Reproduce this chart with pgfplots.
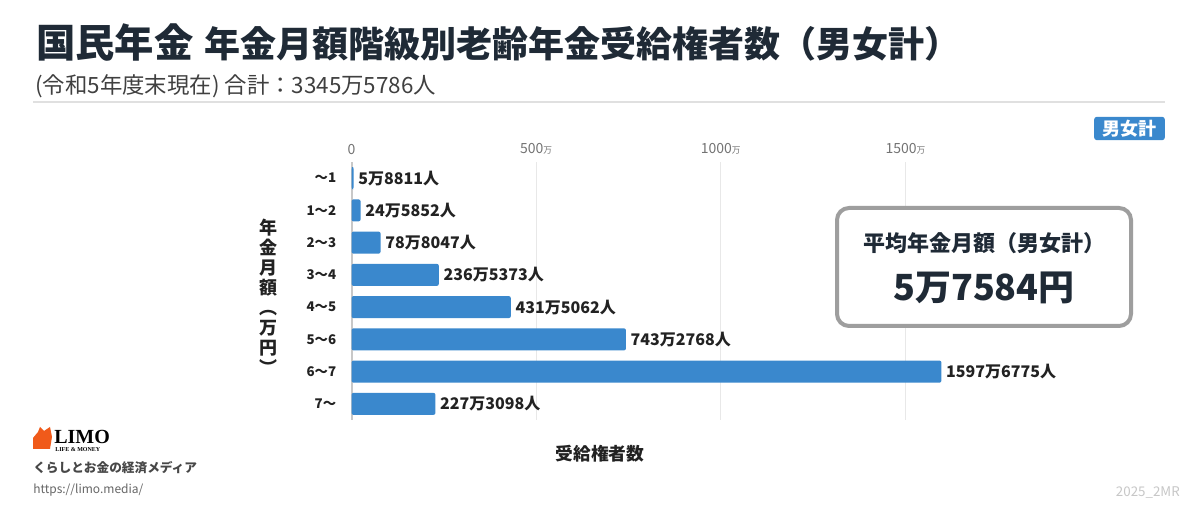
\documentclass[border=0pt]{standalone}
\usepackage{pgfplots}
\pgfplotsset{compat=1.18}
\usepackage{pgfplotstable}
\usepackage{fontspec}
\setmainfont{Noto Sans CJK JP}
\newfontfamily\logofont{Liberation Serif}
\definecolor{titlecol}{HTML}{1F2A36}
\definecolor{barblue}{HTML}{3A88CD}
\definecolor{gridcol}{HTML}{E8E8E8}
\definecolor{axcol}{HTML}{C8C8C8}
\definecolor{boxgray}{HTML}{9E9E9E}
\definecolor{labcol}{HTML}{222222}
\definecolor{limoorange}{HTML}{F05A1A}

\pgfplotstableread[col sep=comma]{
y,x,label
0,5.8811,5万8811人
1,24.5852,24万5852人
2,78.8047,78万8047人
3,236.5373,236万5373人
4,431.5062,431万5062人
5,743.2768,743万2768人
6,1597.6775,1597万6775人
7,227.3098,227万3098人
}\datatable

\begin{document}
\begin{tikzpicture}[x=0.75pt,y=0.75pt]
\useasboundingbox (0,0) rectangle (1200,520);
\fill[white] (0,0) rectangle (1200,520);
\coordinate (axpos) at (351.5,100);

% title
\node[anchor=base west,inner sep=0,text=titlecol] at (36,462)
  {{\fontsize{29.5}{29.5}\selectfont\bfseries 国民年金}\hspace{8pt}{\fontsize{27}{27}\selectfont\bfseries 年金月額階級別老齢年金受給権者数（男女計）}};
\node[anchor=base west,inner sep=0,text=black!75] at (35,426)
  {\fontsize{16.8}{16.8}\selectfont (令和5年度末現在) 合計：3345万5786人};
\draw[line width=1.5pt,draw=black!12] (33,418) -- (1165,418);

\begin{axis}[
  at={(axpos)}, anchor=south west,
  scale only axis, width=498.5pt, height=193.5pt,
  xmin=0, xmax=1800, ymin=-0.5, ymax=7.5, y dir=reverse,
  axis x line*=top, axis y line*=left,
  x axis line style={draw=none},
  y axis line style={draw=axcol,line width=1.5pt,-},
  xtick={0,500,1000,1500},
  xticklabels={0,500{\fontsize{6.5}{6.5}\selectfont 万},1000{\fontsize{6.5}{6.5}\selectfont 万},1500{\fontsize{6.5}{6.5}\selectfont 万}},
  xticklabel style={font=\fontsize{10.5}{10.5}\selectfont, text=black!55, yshift=2pt},
  ytick={0,...,7},
  yticklabels={～1,1～2,2～3,3～4,4～5,5～6,6～7,7～},
  yticklabel style={font=\fontsize{10}{10}\selectfont\bfseries, text=labcol, xshift=-8pt},
  major tick length=0pt,
  xmajorgrids, grid style={draw=gridcol,line width=0.75pt},
  clip=false,
]
\addplot[xbar, bar width=16.5pt, fill=barblue, draw=none, rounded corners=1.5pt,
  point meta=explicit symbolic, nodes near coords,
  nodes near coords style={anchor=west, xshift=0pt, font=\fontsize{12}{12}\selectfont\bfseries, text=labcol}]
  table[x=x,y=y,meta=label]{\datatable};
\end{axis}

% y label vertical
\node[align=center,inner sep=0,text=labcol,font=\fontsize{13.5}{15}\selectfont\bfseries] at (268,223)
  {年\\金\\月\\額\\︵\\万\\円\\︶};
% x label
\node[text=labcol,font=\fontsize{13.3}{13.3}\selectfont\bfseries] at (600,66) {受給権者数};

% tag
\node[fill=barblue,text=white,rounded corners=2pt,inner sep=0,minimum width=53pt,minimum height=17.5pt,font=\fontsize{13.5}{13.5}\selectfont\bfseries] at (1129.5,391.5) {男女計};

% average box
\draw[boxgray,line width=3pt,fill=white,rounded corners=9pt] (837,312) rectangle (1131,194);
\node[text=titlecol,font=\fontsize{16.5}{16.5}\selectfont\bfseries] at (984,277) {平均年金月額（男女計）};
\node[text=titlecol,font=\fontsize{27}{27}\selectfont\bfseries] at (984,232) {5万7584円};

% logo
\fill[limoorange] (33,71) -- (33,82) -- (38,88) -- (40,93) -- (44,89) -- (50,93) -- (52,83) -- (50,71) -- cycle;
\node[anchor=west,inner sep=0,font=\logofont\bfseries\fontsize{15}{15}\selectfont] at (54,83) {LIMO};
\node[anchor=west,inner sep=0,font=\logofont\bfseries\fontsize{4.5}{4.5}\selectfont] at (55,70.5) {LIFE \& MONEY};
\node[anchor=west,inner sep=0,text=black!72,font=\fontsize{9.5}{9.5}\selectfont\bfseries] at (33,52) {くらしとお金の経済メディア};
\node[anchor=west,inner sep=0,text=black!60,font=\fontsize{9}{9}\selectfont] at (33,30) {https://limo.media/};
\node[anchor=east,inner sep=0,text=black!22,font=\fontsize{10}{10}\selectfont] at (1180,27) {2025\_2MR};
\end{tikzpicture}
\end{document}
